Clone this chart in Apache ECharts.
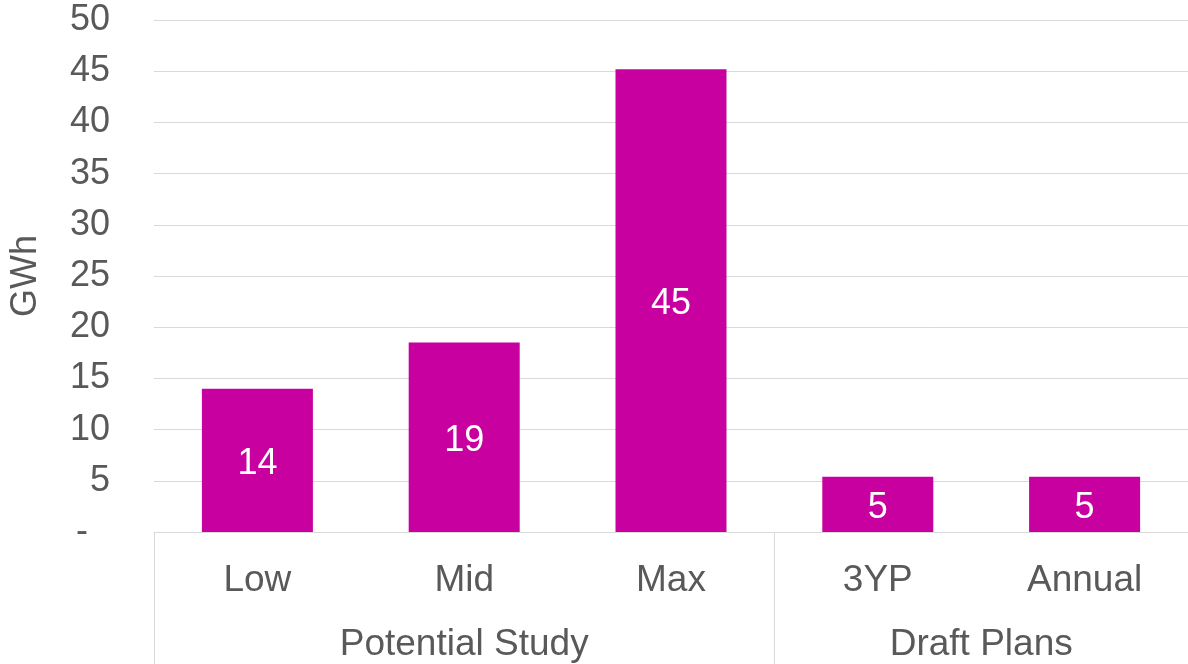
<!DOCTYPE html>
<html>
<head>
<meta charset="utf-8">
<script src="https://cdn.jsdelivr.net/npm/echarts@6/dist/echarts.min.js"></script>
<style>
html,body{margin:0;padding:0;background:#fff;}
#chart{width:1188px;height:664px;}
</style>
</head>
<body>
<div id="chart"></div>
<script>
const categories = ['Low', 'Mid', 'Max', '3YP', 'Annual'];
const values = [14.0, 18.5, 45.2, 5.4, 5.4];
const groups = ['Potential Study', 'Draft Plans'];
const groupSizes = [3, 2];
const yTicks = [0, 5, 10, 15, 20, 25, 30, 35, 40, 45, 50];
const yAxisName = 'GWh';

const textColor = '#595959';
const gridColor = '#d9d9d9';
const font = 'Liberation Sans, Arial, sans-serif';

// group boundaries and centres (in category units)
const bounds = [0];
groupSizes.forEach(s => bounds.push(bounds[bounds.length - 1] + s));
const centres = groupSizes.map((s, i) => bounds[i] + s / 2);

const chart = echarts.init(document.getElementById('chart'), null, {renderer: 'canvas'});
chart.setOption({
  animation: false,
  grid: {left: 151, right: -3, top: 20, bottom: 132, containLabel: false},
  xAxis: [
    {
      type: 'category',
      data: categories,
      position: 'bottom',
      axisLine: {show: true, lineStyle: {color: gridColor, width: 1}},
      axisTick: {show: false},
      axisLabel: {color: textColor, fontSize: 37, fontFamily: font, margin: 30},
      splitLine: {show: false}
    },
    {
      type: 'value',
      min: 0,
      max: categories.length,
      position: 'bottom',
      axisLine: {show: false},
      axisTick: {show: true, customValues: bounds, length: 132, lineStyle: {color: gridColor, width: 1}},
      axisLabel: {
        show: true,
        customValues: centres,
        color: textColor, fontSize: 37, fontFamily: font, margin: 94,
        formatter: v => { const i = centres.indexOf(v); return i >= 0 ? groups[i] : ''; }
      },
      splitLine: {show: false}
    }
  ],
  yAxis: {
    type: 'value',
    min: yTicks[0],
    max: yTicks[yTicks.length - 1],
    interval: 5,
    name: yAxisName,
    nameLocation: 'middle',
    nameGap: 110,
    nameTextStyle: {color: textColor, fontSize: 36, fontFamily: font},
    axisLine: {show: false},
    axisTick: {show: false},
    axisLabel: {
      color: textColor, fontSize: 36, fontFamily: font, margin: 44,
      formatter: v => v === 0 ? '{d|-}' : String(v),
      rich: {d: {color: textColor, fontSize: 36, fontFamily: font, padding: [0, 22, 0, 0]}}
    },
    splitLine: {show: true, lineStyle: {color: gridColor, width: 1}}
  },
  series: [{
    type: 'bar',
    xAxisIndex: 0,
    data: values,
    barWidth: 111,
    itemStyle: {color: '#C800A0'},
    label: {
      show: true,
      position: 'inside',
      offset: [0, 4],
      color: '#ffffff',
      fontSize: 36,
      fontFamily: font,
      formatter: p => String(Math.round(p.value))
    }
  }]
});
</script>
</body>
</html>
